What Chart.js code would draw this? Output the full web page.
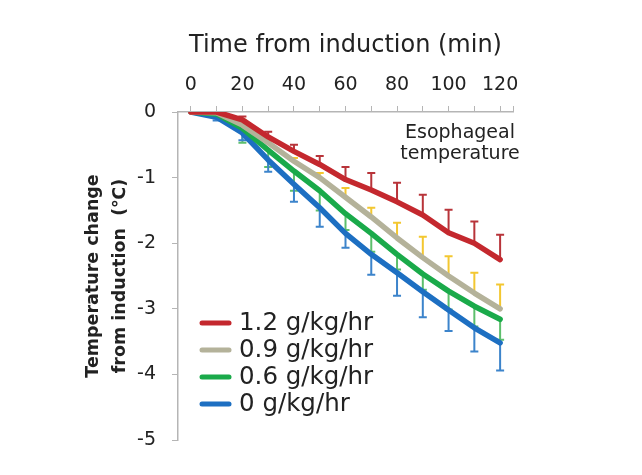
<!DOCTYPE html>
<html>
<head>
<meta charset="utf-8">
<script src="https://cdn.jsdelivr.net/npm/chart.js@4.4.1/dist/chart.umd.min.js"></script>
<style>
  html, body { margin: 0; padding: 0; background: #fff; }
  #wrap { width: 642px; height: 475px; }
</style>
</head>
<body>
<div id="wrap"><canvas id="tempChart" width="642" height="475"></canvas></div>
<script>
// ======================
// DATA
// ======================
const minutes = [0, 10, 20, 30, 40, 50, 60, 70, 80, 90, 100, 110, 120];
const xTickLabels = [0, 20, 40, 60, 80, 100, 120];
const yTicks = [0, -1, -2, -3, -4, -5];

const seriesLabels = ["1.2 g/kg/hr", "0.9 g/kg/hr", "0.6 g/kg/hr", "0 g/kg/hr"];

const rate12 = [0, 0, -0.12, -0.38, -0.6, -0.8, -1.03, -1.19, -1.37, -1.57, -1.84, -2.0, -2.25];
const rate09 = [0, -0.01, -0.2, -0.47, -0.75, -1.0, -1.3, -1.6, -1.92, -2.22, -2.5, -2.76, -3.0];
const rate06 = [0, -0.03, -0.25, -0.58, -0.9, -1.2, -1.55, -1.85, -2.17, -2.47, -2.73, -2.96, -3.16];
const rate00 = [0, -0.08, -0.32, -0.73, -1.1, -1.46, -1.85, -2.17, -2.45, -2.74, -3.02, -3.29, -3.52];

// error bar ends (upper for 1.2 / 0.9, lower for 0.6 / 0)
const rate12Err = [0, 0, -0.07, -0.3, -0.5, -0.67, -0.84, -0.93, -1.08, -1.26, -1.49, -1.67, -1.87];
const rate09Err = [0, 0, -0.12, -0.43, -0.7, -0.93, -1.16, -1.46, -1.69, -1.9, -2.2, -2.45, -2.63];
const rate06Err = [0, -0.05, -0.47, -0.84, -1.2, -1.5, -1.8, -2.13, -2.4, -2.71, -3.01, -3.27, -3.47];
const rate00Err = [0, -0.13, -0.43, -0.91, -1.37, -1.75, -2.07, -2.48, -2.8, -3.13, -3.34, -3.65, -3.94];

const FONT = "'DejaVu Sans', sans-serif";

function toPoints(values) {
    return minutes.map((m, i) => ({ x: m, y: values[i] }));
}

// ======================
// PLUGINS
// ======================
const errorBars = {
    id: "errorBars",
    beforeDatasetsDraw(chart) {
        const ctx = chart.ctx;
        const xs = chart.scales.x;
        const ys = chart.scales.y;

        chart.data.datasets.forEach(ds => {
            ctx.save();
            ctx.strokeStyle = ds.errColor;
            ctx.lineWidth = 2;
            ds.errEnds.forEach((end, i) => {
                const v = ds.data[i].y;
                if (Math.abs(end - v) < 0.02) return;
                const px = xs.getPixelForValue(minutes[i]);
                const y1 = ys.getPixelForValue(v);
                const y2 = ys.getPixelForValue(end);
                ctx.beginPath();
                ctx.moveTo(px, y1);
                ctx.lineTo(px, y2);
                ctx.moveTo(px - 4, y2);
                ctx.lineTo(px + 4, y2);
                ctx.stroke();
            });
            ctx.restore();
        });
    }
};

const sideText = {
    id: "sideText",
    afterDraw(chart) {
        const ctx = chart.ctx;
        ctx.save();

        // legend inside plot
        ctx.font = "24.5px " + FONT;
        ctx.textBaseline = "middle";
        ctx.textAlign = "left";
        chart.data.datasets.forEach((ds, i) => {
            const y = 323 + i * 27;
            ctx.strokeStyle = ds.borderColor;
            ctx.lineWidth = 5;
            ctx.lineCap = "round";
            ctx.beginPath();
            ctx.moveTo(202, y);
            ctx.lineTo(229, y);
            ctx.stroke();
            ctx.fillStyle = "#222";
            ctx.fillText(ds.label, 239, y + 1);
        });

        // note
        ctx.font = "19px " + FONT;
        ctx.textAlign = "center";
        ctx.fillText("Esophageal", 460, 133);
        ctx.fillText("temperature", 460, 154);

        ctx.restore();
    }
};

// ======================
// CHART
// ======================
new Chart(
    document.getElementById("tempChart"),
    {
        type: "line",

        data: {
            datasets: [
                { label: seriesLabels[0], data: toPoints(rate12), borderColor: "#c4282e", errColor: "#b8343a", errEnds: rate12Err },
                { label: seriesLabels[1], data: toPoints(rate09), borderColor: "#b4b29a", errColor: "#f3c730", errEnds: rate09Err },
                { label: seriesLabels[2], data: toPoints(rate06), borderColor: "#1aaa4a", errColor: "#5dbf6c", errEnds: rate06Err },
                { label: seriesLabels[3], data: toPoints(rate00), borderColor: "#1d6fc2", errColor: "#3c84cb", errEnds: rate00Err }
            ]
        },

        options: {
            responsive: false,
            animation: false,
            devicePixelRatio: 1,
            layout: {
                padding: { left: 0, top: 0, right: 129, bottom: 35 }
            },
            elements: {
                point: { radius: 0 },
                line: {
                    borderWidth: 5.5,
                    tension: 0,
                    borderCapStyle: "round",
                    borderJoinStyle: "round"
                }
            },
            plugins: {
                legend: { display: false },
                tooltip: { enabled: false }
            },
            scales: {
                x: {
                    type: "linear",
                    position: "top",
                    min: -5,
                    max: 125,
                    afterBuildTicks: s => {
                        s.ticks = minutes.concat([125]).map(v => ({ value: v }));
                    },
                    afterFit: s => { s.height = 112; },
                    ticks: {
                        autoSkip: false,
                        maxRotation: 0,
                        padding: 10,
                        color: "#222",
                        font: { family: FONT, size: 19 },
                        callback: v => xTickLabels.includes(v) ? String(v) : ""
                    },
                    grid: {
                        drawOnChartArea: false,
                        tickLength: 6,
                        color: "#b5b5b5"
                    },
                    border: { color: "#b5b5b5", width: 1.5 },
                    title: {
                        display: true,
                        text: "Time from induction (min)",
                        color: "#222",
                        font: { family: FONT, size: 24, lineHeight: 1.2 },
                        padding: { top: 31, bottom: 0 }
                    }
                },
                y: {
                    min: -5,
                    max: 0,
                    afterBuildTicks: s => {
                        s.ticks = yTicks.map(v => ({ value: v }));
                    },
                    afterFit: s => { s.width = 178; },
                    ticks: {
                        padding: 16,
                        color: "#222",
                        font: { family: FONT, size: 19 },
                        callback: v => String(v)
                    },
                    grid: {
                        drawOnChartArea: false,
                        tickLength: 6,
                        color: "#b5b5b5"
                    },
                    border: { color: "#b5b5b5", width: 1.5 },
                    title: {
                        display: true,
                        text: ["Temperature change", "from induction  (\u2103)"],
                        color: "#222",
                        font: { family: FONT, size: 17.5, weight: "bold", lineHeight: 1.543 },
                        padding: { top: 79.5, bottom: 0 }
                    }
                }
            }
        },

        plugins: [errorBars, sideText]
    }
);
</script>
</body>
</html>
